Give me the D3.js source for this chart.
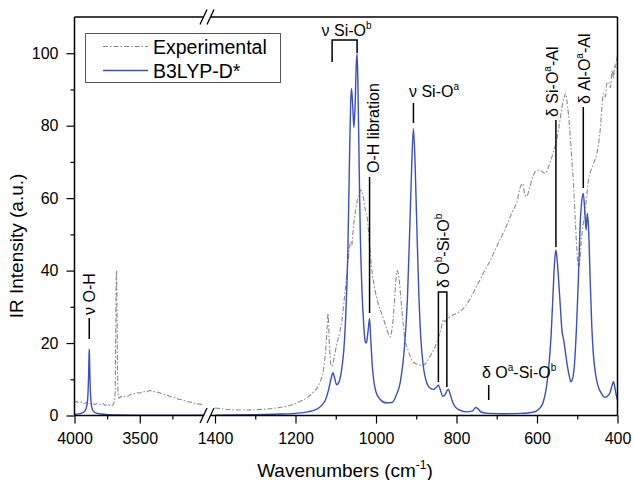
<!DOCTYPE html>
<html>
<head>
<meta charset="utf-8">
<script src="https://cdn.jsdelivr.net/npm/d3@7"></script>
<style>
  body { margin: 0; background: #fff; }
  svg { font-family: Arial, 'Liberation Sans', sans-serif; }
</style>
</head>
<body>
<svg id="chart" width="633" height="480"></svg>
<script>
// experimental spectrum, high wavenumber part (4000-3000)
const expHiWn = [4000, 3985, 3965, 3945, 3925, 3905, 3885, 3865, 3845, 3825, 3805, 3785, 3765, 3745, 3725, 3710, 3700, 3690,
  3684, 3681, 3678, 3675, 3671, 3666, 3660, 3645, 3630, 3610, 3590, 3570, 3545, 3520, 3500, 3475, 3450, 3425, 3400,
  3375, 3350, 3320, 3290, 3260, 3230, 3200, 3170, 3140, 3110, 3080, 3050, 3020, 3005]
const expHiI = [3.5, 3.9, 3.5, 3.7, 3.3, 3.6, 3.2, 3.5, 3.0, 3.4, 3.0, 3.3, 2.8, 3.1, 2.7, 2.8, 3.3, 5,
  22, 36, 40, 33, 15, 6, 4.8, 5.2, 5.0, 5.4, 5.3, 5.8, 6.0, 6.3, 6.2, 6.6, 6.5, 6.9, 6.7,
  6.5, 6.3, 5.9, 5.6, 5.2, 4.9, 4.5, 4.3, 3.9, 3.7, 3.4, 3.2, 3.0, 2.8]

// experimental spectrum, low wavenumber part (1400-400)
const expLoWn = [1400, 1380, 1360, 1330, 1300, 1270, 1240, 1210, 1190, 1170, 1155, 1140, 1130, 1125, 1121, 1119, 1116,
  1112, 1109, 1104, 1098, 1090, 1085, 1078, 1070, 1066, 1063, 1060, 1057, 1050, 1043, 1037, 1032, 1027, 1021, 1016,
  1011, 1003, 995, 986, 975, 965, 960, 955, 950, 947, 943, 938, 933, 929, 920, 911, 900, 890, 882, 870, 860, 853,
  845, 837, 832, 829, 823, 816, 800, 787, 770, 760, 746, 730, 715, 704, 690, 675, 663, 650, 640, 636, 630, 626,
  618, 610, 601, 590, 580, 570, 560, 551, 545, 538, 532, 529, 526, 522, 518, 513, 509, 504, 500, 497, 494, 490,
  484, 478, 472, 465, 458, 452, 447, 442, 438, 435, 430, 427, 422, 418, 413, 410, 407, 404, 401, 400]
const expLoI = [2.1, 1.8, 1.6, 1.5, 1.6, 1.8, 2.2, 2.9, 3.8, 5.0, 6.5, 9, 13, 18, 25, 28.2, 20,
  14, 13.6, 16, 19.5, 23, 26, 33, 42, 46, 48, 47, 51, 57, 61, 62.2, 60.5, 57, 53.9, 47,
  41, 35, 31, 28.2, 24.5, 21.7, 24, 30, 38, 40, 38, 32, 26, 21.7, 18, 15.3, 14.2, 13.9, 13.9, 15.5, 17.5, 19,
  21.5, 24.5, 26.5, 25.9, 26.5, 27.3, 28.2, 29.1, 31.5, 33.5, 36.5, 40, 43, 45.7, 49, 52.5, 55.8, 59, 63.5, 64, 61, 60.4,
  63, 66, 67.7, 67.5, 66.8, 69, 72.5, 76, 80, 85, 88, 88.9, 87, 83.4, 78, 70, 63.1, 52, 44, 41, 42, 48,
  53.9, 59, 65, 68, 70, 72, 75, 80, 86, 88.9, 88, 91.5, 92, 90.5, 95.3, 93, 97, 96, 99, 98.5]

// B3LYP-D* spectrum, high part
const calcHiWn = [4000, 3960, 3930, 3912, 3902, 3896, 3892, 3889, 3887, 3885, 3882, 3878, 3872, 3862, 3845, 3815, 3760, 3650, 3500, 3300, 3005]
const calcHiI = [0.3, 0.5, 0.9, 1.8, 3.5, 6.5, 11, 16, 18.3, 16, 11, 6.5, 3.3, 1.6, 0.9, 0.5, 0.3, 0.15, 0.1, 0.05, 0.05]

// B3LYP-D* spectrum, low part
const calcLoWn = [1400, 1300, 1250, 1200, 1170, 1150, 1135, 1125, 1117, 1111, 1107, 1103, 1098, 1092, 1085, 1080, 1075,
  1070, 1066, 1063, 1061, 1058, 1055, 1052, 1049, 1047, 1045, 1042, 1039, 1035, 1031, 1027, 1024, 1020, 1016, 1013,
  1010, 1006, 1000, 990, 975, 960, 950, 940, 930, 922, 916, 911, 907, 903, 899, 894, 889, 883, 876, 866, 857, 850,
  845, 840, 834, 828, 823, 820, 816, 810, 803, 790, 775, 760, 752, 746, 738, 720, 680, 640, 610, 595, 585, 577, 571,
  565, 560, 556, 553, 550, 546, 542, 538, 534, 530, 525, 520, 516, 512, 507, 502, 497, 493, 489, 485, 481, 478, 475,
  472, 468, 464, 460, 455, 448, 440, 432, 426, 418, 413, 410, 407, 403, 400]
const calcLoI = [0.1, 0.2, 0.35, 0.6, 1.0, 1.6, 2.8, 4.5, 7.5, 10.5, 11.8, 10.5, 8.5, 9.2, 13, 18, 28,
  45, 70, 86, 90.3, 86, 79.5, 85, 97, 99.9, 92, 70, 50, 35, 26, 20.5, 20, 23, 26.8, 21,
  15, 10, 6.5, 4.5, 3.5, 3.6, 5.5, 9, 18, 32, 52, 70, 79.2, 70, 54, 35, 22, 14, 9.8, 7.6, 7.2, 7.8,
  8.4, 7, 5.3, 5.8, 7, 7.2, 6, 3.8, 2.4, 1.4, 1.0, 1.3, 2.2, 1.8, 0.9, 0.6, 0.5, 0.6, 0.9, 1.8, 3.5, 7.5, 13,
  22, 34, 43, 45.7, 43, 37, 30, 23.5, 21, 18, 14, 11, 9.3, 10, 14, 24, 38, 52, 59, 61.3, 56, 51.2, 55.8,
  52, 38, 25, 17, 11.8, 8, 6.1, 5, 5.2, 6.5, 8.5, 9.3, 8, 5.5, 4.3]

const xTicksHi = [4000, 3500], xMinorHi = [3750, 3250]
const xTicksLo = [1400, 1200, 1000, 800, 600, 400], xMinorLo = [1300, 1100, 900, 700, 500]
const yTicks = [0, 20, 40, 60, 80, 100], yMinor = [10, 30, 50, 70, 90]

// peak labels: wavenumber of the mark
const labels = [
  {seg: 'hi', wn: 3887, text: ['ν O-H'], y0: 318, y1: 339, rot: true, tx: 95, ty: 315},
  {seg: 'lo', wn: 1016, text: ['O-H libration'], y0: 177, y1: 313, rot: true, tx: 379, ty: 173},
  {seg: 'lo', wn: 907, text: ['ν Si-O', 'a'], y0: 103, y1: 123, rot: false, tx: 409, ty: 97},
  {seg: 'lo', wn: 553, text: ['δ Si-O', 'a', '-Al'], y0: 120, y1: 247, rot: true, tx: 558, ty: 117},
  {seg: 'lo', wn: 485, text: ['δ Al-O', 'a', '-Al'], y0: 107, y1: 188, rot: true, tx: 590, ty: 104},
  {seg: 'lo', wn: 720, text: ['δ O', 'a', '-Si-O', 'b'], y0: 385, y1: 400, rot: false, tx: 482, ty: 378}
]

const svg = d3.select('#chart')
const mL = 74.5, mR = 617.5, mT = 17, mB = 415.5
const xHi = d3.scaleLinear().domain([4000, 3000]).range([mL, 205])
const xLo = d3.scaleLinear().domain([1400, 400]).range([215, mR])
const y = d3.scaleLinear().domain([0, 110]).range([mB, mT])
const blue = '#3b4fb8', grey = '#8a8a8a'

const toPts = (wn, vals) => wn.map((w, i) => [w, vals[i]])
const line = xs => d3.line().x(d => xs(d[0])).y(d => y(d[1])).curve(d3.curveMonotoneX)

// experimental curves
svg.append('path').attr('d', line(xHi)(toPts(expHiWn, expHiI)))
  .attr('fill', 'none').attr('stroke', grey).attr('stroke-width', 1.1).attr('stroke-dasharray', '5,2,1.5,2')
svg.append('path').attr('d', line(xLo)(toPts(expLoWn, expLoI)))
  .attr('fill', 'none').attr('stroke', grey).attr('stroke-width', 1.1).attr('stroke-dasharray', '5,2,1.5,2')
// calculated curves
svg.append('path').attr('d', line(xHi)(toPts(calcHiWn, calcHiI)))
  .attr('fill', 'none').attr('stroke', blue).attr('stroke-width', 1.4)
svg.append('path').attr('d', line(xLo)(toPts(calcLoWn, calcLoI)))
  .attr('fill', 'none').attr('stroke', blue).attr('stroke-width', 1.4)

// axes
const tickStyle = g => {
  g.select('.domain').remove()
  g.selectAll('line').attr('stroke', '#000').attr('stroke-width', 1.2)
  g.selectAll('text').attr('font-size', 16).attr('fill', '#000')
}
const addX = (xs, major, minor) => {
  svg.append('g').attr('transform', `translate(0,${mB})`)
    .call(d3.axisBottom(xs).tickValues(major).tickSize(8).tickPadding(9).tickFormat(d3.format('d')))
    .call(tickStyle)
  svg.append('g').attr('transform', `translate(0,${mB})`)
    .call(d3.axisBottom(xs).tickValues(minor).tickSize(4).tickFormat(''))
    .call(tickStyle)
}
addX(xHi, xTicksHi, xMinorHi)
addX(xLo, xTicksLo, xMinorLo)
svg.append('g').attr('transform', `translate(${mL},0)`)
  .call(d3.axisLeft(y).tickValues(yTicks).tickSize(8).tickPadding(8))
  .call(tickStyle)
svg.append('g').attr('transform', `translate(${mL},0)`)
  .call(d3.axisLeft(y).tickValues(yMinor).tickSize(4).tickFormat(''))
  .call(tickStyle)

// frame with breaks
const frame = svg.append('g').attr('stroke', '#000').attr('stroke-width', 1.5).attr('fill', 'none')
frame.append('line').attr('x1', mL).attr('x2', mL).attr('y1', mT).attr('y2', mB)
frame.append('line').attr('x1', mR).attr('x2', mR).attr('y1', mT).attr('y2', mB)
;[mT, mB].forEach(yy => {
  frame.append('line').attr('x1', mL).attr('x2', 203.5).attr('y1', yy).attr('y2', yy)
  frame.append('line').attr('x1', 210.5).attr('x2', mR).attr('y1', yy).attr('y2', yy)
  frame.append('line').attr('x1', 200).attr('x2', 207).attr('y1', yy + 7.5).attr('y2', yy - 7.5).attr('stroke-width', 1.3)
  frame.append('line').attr('x1', 207).attr('x2', 214).attr('y1', yy + 7.5).attr('y2', yy - 7.5).attr('stroke-width', 1.3)
})

// axis titles
const xt = svg.append('text').attr('x', 345).attr('y', 477).attr('text-anchor', 'middle').attr('font-size', 19)
xt.append('tspan').text('Wavenumbers (cm')
xt.append('tspan').attr('dy', -8).attr('font-size', 12).text('-1')
xt.append('tspan').attr('dy', 8).text(')')
svg.append('text').attr('transform', 'translate(23,246) rotate(-90)').attr('text-anchor', 'middle')
  .attr('font-size', 19).text('IR Intensity (a.u.)')

// peak annotations
const ann = svg.append('g')
const writeParts = (t, parts) => {
  parts.forEach((p, i) => {
    const sup = i % 2 === 1
    const ts = t.append('tspan').text(p)
    if (sup) ts.attr('font-size', 10).attr('dy', -7)
    else if (i > 0) ts.attr('dy', 7)
  })
}
labels.forEach(l => {
  const xs = l.seg === 'hi' ? xHi : xLo
  const px = xs(l.wn)
  ann.append('line').attr('x1', px).attr('x2', px).attr('y1', l.y0).attr('y2', l.y1)
    .attr('stroke', '#000').attr('stroke-width', 1.5)
  const t = ann.append('text').attr('font-size', 16)
  if (l.rot) t.attr('transform', `translate(${l.tx},${l.ty}) rotate(-90)`)
  else t.attr('x', l.tx).attr('y', l.ty)
  writeParts(t, l.text)
})
// bracket for nu Si-Ob
const bA = xLo(1109), bB = xLo(1047)
ann.append('path').attr('d', `M${bA},62V40H${bB}V53`).attr('fill', 'none').attr('stroke', '#000').attr('stroke-width', 1.5)
const t1 = ann.append('text').attr('x', (bA + bB) / 2 + 2).attr('y', 36).attr('text-anchor', 'middle').attr('font-size', 16)
writeParts(t1, ['ν Si-O', 'b'])
// bracket for delta Ob-Si-Ob
const cA = xLo(845), cB = xLo(824)
ann.append('path').attr('d', `M${cA},382V292H${cB}V387`).attr('fill', 'none').attr('stroke', '#000').attr('stroke-width', 1.5)
const t2 = ann.append('text').attr('transform', `translate(${cB + 2},288) rotate(-90)`).attr('font-size', 16)
writeParts(t2, ['δ O', 'b', '-Si-O', 'b'])

// legend
const lg = svg.append('g')
lg.append('rect').attr('x', 85.5).attr('y', 33.5).attr('width', 195).attr('height', 49)
  .attr('fill', '#fff').attr('stroke', '#555').attr('stroke-width', 1)
lg.append('line').attr('x1', 103).attr('x2', 148).attr('y1', 46.5).attr('y2', 46.5)
  .attr('stroke', grey).attr('stroke-width', 1.1).attr('stroke-dasharray', '5,2,1.5,2')
lg.append('line').attr('x1', 103).attr('x2', 148).attr('y1', 70.5).attr('y2', 70.5)
  .attr('stroke', blue).attr('stroke-width', 1.4)
lg.append('text').attr('x', 153).attr('y', 54).attr('font-size', 19.5).text('Experimental')
lg.append('text').attr('x', 153).attr('y', 78).attr('font-size', 19.5).text('B3LYP-D*')
</script>
</body>
</html>
